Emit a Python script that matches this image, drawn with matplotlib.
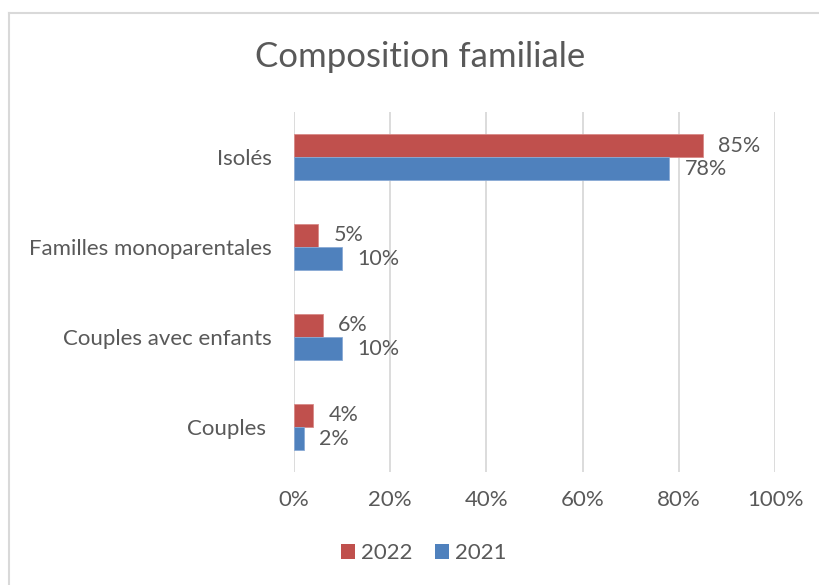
import matplotlib
matplotlib.use("Agg")
import matplotlib.pyplot as plt
from matplotlib.lines import Line2D
from matplotlib.patches import Patch
import numpy as np

plt.rcParams['font.family'] = ['Lato', 'DejaVu Sans']

categories = ["Isolés", "Familles monoparentales", "Couples avec enfants", "Couples "]
values_2022 = [85, 5, 6, 4]
values_2021 = [78, 10, 10, 2]
series_names = ["2022", "2021"]
xticks = [0, 20, 40, 60, 80, 100]

RED = "#C0504D"
BLUE = "#4F81BD"
TEXT = "#595959"
GRID = "#D9D9D9"

fig = plt.figure(figsize=(8.19, 5.85), dpi=100)
ax = fig.add_axes([0.359, 0.1932, 0.5873, 0.6153])

n = len(categories)
y = np.arange(n)[::-1].astype(float)
h = 0.256

bars22 = ax.barh(y + h / 2, values_2022, height=h, color=RED, edgecolor="#D98A88", linewidth=0.6)
bars21 = ax.barh(y - h / 2, values_2021, height=h, color=BLUE, edgecolor="#8AAAD5", linewidth=0.6)

for bars, vals in ((bars22, values_2022), (bars21, values_2021)):
    for b, v in zip(bars, vals):
        ax.annotate(f"{v}%", (v, b.get_y() + b.get_height() / 2),
                    xytext=(11, 0), textcoords="offset points",
                    va="center", ha="left", fontsize=15.5, color=TEXT)

ax.set_xlim(0, 100)
ax.set_ylim(-0.5, n - 0.5)
ax.set_xticks(xticks)
ax.set_xticklabels([f"{t}%" for t in xticks])
ax.set_yticks(y)
ax.set_yticklabels(categories)
ax.tick_params(axis="both", length=0, labelsize=16, colors=TEXT)
ax.tick_params(axis="x", pad=13)
ax.tick_params(axis="y", pad=16)
ax.xaxis.grid(True, color=GRID, linewidth=1.3)
ax.set_axisbelow(True)
for s in ax.spines.values():
    s.set_visible(False)

fig.text(0.513, 0.902, "Composition familiale", ha="center", va="center",
         fontsize=25, color=TEXT)

handles = [Patch(facecolor=RED), Patch(facecolor=BLUE)]
fig.legend(handles, series_names, loc="center", bbox_to_anchor=(0.517, 0.054),
           ncol=2, frameon=False, fontsize=16, labelcolor=TEXT,
           handlelength=0.65, handleheight=0.65, handletextpad=0.25,
           columnspacing=1.0)

# chart frame edges
fig.add_artist(Line2D([9 / 819, 9 / 819], [0, 1 - 13 / 585], transform=fig.transFigure,
                      color=GRID, linewidth=1.5))
fig.add_artist(Line2D([9 / 819, 1], [1 - 13 / 585, 1 - 13 / 585], transform=fig.transFigure,
                      color=GRID, linewidth=1.5))

fig.savefig("out.png", dpi=100)
